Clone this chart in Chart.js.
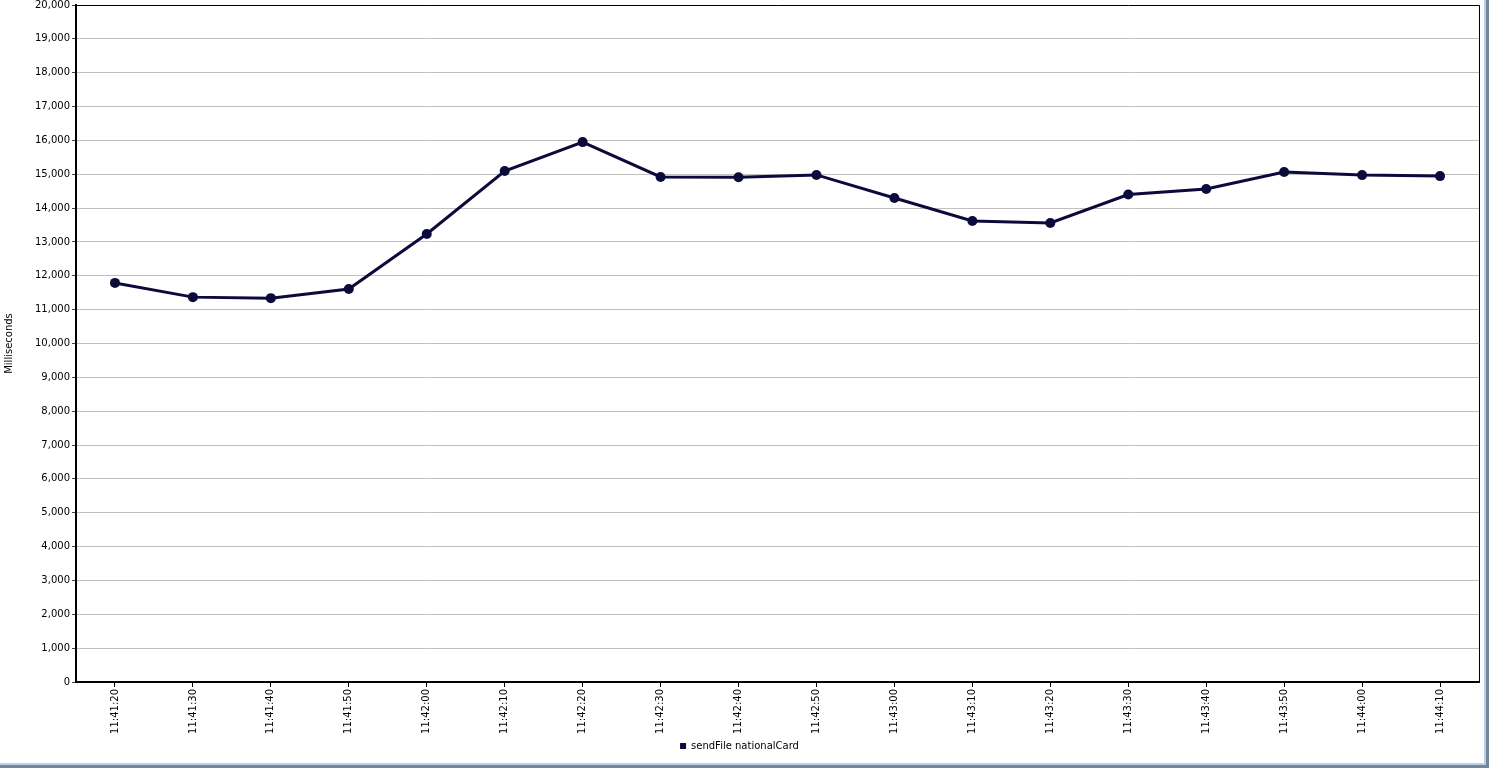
<!DOCTYPE html>
<html>
<head>
<meta charset="utf-8">
<script src="https://cdn.jsdelivr.net/npm/chart.js@4/dist/chart.umd.min.js"></script>
<style>
  body { margin: 0; background: #76869a; }
  #frame { width: 1486px; height: 765px; background: #b8d0ea; }
  #wrap { width: 1484px; height: 763px; background: #fff; }
  canvas { display: block; }
</style>
</head>
<body>
<div id="frame"><div id="wrap"><canvas id="chart" width="1484" height="763"></canvas></div></div>
<script>
const times = [
  '11:41:20', '11:41:30', '11:41:40', '11:41:50', '11:42:00', '11:42:10',
  '11:42:20', '11:42:30', '11:42:40', '11:42:50', '11:43:00', '11:43:10',
  '11:43:20', '11:43:30', '11:43:40', '11:43:50', '11:44:00', '11:44:10',
]
const sendFileNationalCard = [
  11790, 11370, 11340, 11610, 13235, 15095,
  15950, 14920, 14910, 14980, 14300, 13620,
  13560, 14400, 14565, 15065, 14975, 14945,
]
const seriesName = 'sendFile nationalCard'
const lineColor = '#0c0a3b'
const font = { family: 'DejaVu Sans', size: 10 }

// thin black frame on the top and right of the plot
const plotFrame = {
  id: 'plotFrame',
  afterDraw(chart) {
    const { ctx, chartArea: a } = chart
    ctx.save()
    ctx.strokeStyle = '#000'
    ctx.lineWidth = 1
    ctx.beginPath()
    ctx.moveTo(a.left, a.top + 0.5)
    ctx.lineTo(a.right + 0.5, a.top + 0.5)
    ctx.lineTo(a.right + 0.5, a.bottom)
    ctx.stroke()
    ctx.restore()
  },
}

new Chart(document.getElementById('chart'), {
  type: 'line',
  data: {
    labels: times,
    datasets: [
      {
        label: seriesName,
        data: sendFileNationalCard,
        borderColor: lineColor,
        backgroundColor: lineColor,
        borderWidth: 3,
        pointRadius: 5,
        pointBorderWidth: 0,
        pointBackgroundColor: lineColor,
        tension: 0,
      },
    ],
  },
  options: {
    responsive: false,
    animation: false,
    devicePixelRatio: 1,
    layout: { padding: { top: 5, right: 5, left: 0, bottom: 2 } },
    plugins: {
      legend: {
        position: 'bottom',
        labels: {
          font,
          color: '#000',
          boxWidth: 6,
          boxHeight: 6,
          padding: 6,
          generateLabels: (chart) =>
            Chart.defaults.plugins.legend.labels
              .generateLabels(chart)
              .map((item) => ({ ...item, lineWidth: 0 })),
        },
      },
      tooltip: { enabled: false },
    },
    scales: {
      x: {
        offset: true,
        afterFit: (scale) => { scale.height = 53 },
        grid: {
          drawOnChartArea: false,
          drawTicks: true,
          tickLength: 5,
          tickColor: '#000',
          offset: false,
        },
        border: { color: '#000', width: 2 },
        ticks: {
          font,
          color: '#000',
          autoSkip: false,
          minRotation: 90,
          maxRotation: 90,
          padding: 2,
        },
      },
      y: {
        min: 0,
        max: 20000,
        afterFit: (scale) => {
          scale.width = 76
          scale.paddingTop = 0
          scale.paddingBottom = 0
        },
        grid: {
          color: '#c0c0c0',
          tickColor: '#444',
          tickLength: 4,
        },
        border: { color: '#000', width: 2 },
        ticks: {
          font,
          color: '#000',
          stepSize: 1000,
          padding: 2,
          callback: (v) => v.toLocaleString('en-US'),
        },
        title: {
          display: true,
          text: 'Milliseconds',
          font,
          color: '#000',
          padding: { top: 3, bottom: 0 },
        },
      },
    },
  },
  plugins: [plotFrame],
})
</script>
</body>
</html>
